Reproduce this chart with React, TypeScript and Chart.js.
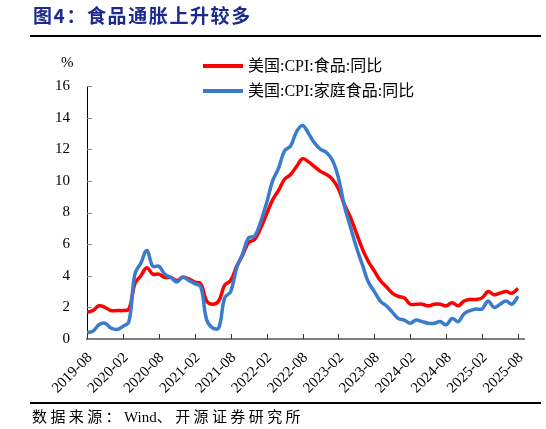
import React, { useEffect, useRef } from "react";
import Chart from "chart.js/auto";

const months = [
  "2019-08", "2019-09", "2019-10", "2019-11", "2019-12",
  "2020-01", "2020-02", "2020-03", "2020-04", "2020-05", "2020-06",
  "2020-07", "2020-08", "2020-09", "2020-10", "2020-11", "2020-12",
  "2021-01", "2021-02", "2021-03", "2021-04", "2021-05", "2021-06",
  "2021-07", "2021-08", "2021-09", "2021-10", "2021-11", "2021-12",
  "2022-01", "2022-02", "2022-03", "2022-04", "2022-05", "2022-06",
  "2022-07", "2022-08", "2022-09", "2022-10", "2022-11", "2022-12",
  "2023-01", "2023-02", "2023-03", "2023-04", "2023-05", "2023-06",
  "2023-07", "2023-08", "2023-09", "2023-10", "2023-11", "2023-12",
  "2024-01", "2024-02", "2024-03", "2024-04", "2024-05", "2024-06",
  "2024-07", "2024-08", "2024-09", "2024-10", "2024-11", "2024-12",
  "2025-01", "2025-02", "2025-03", "2025-04", "2025-05", "2025-06",
  "2025-07", "2025-08",
];

// 美国:CPI:食品:同比 (%)
const foodYoY = [
  1.7, 1.8, 2.1, 2.0, 1.8,
  1.8, 1.8, 1.9, 3.5, 4.0, 4.5, 4.1, 4.1, 3.9, 3.9, 3.7, 3.9,
  3.8, 3.6, 3.5, 2.4, 2.2, 2.4, 3.4, 3.7, 4.6, 5.3, 6.1, 6.3,
  7.0, 7.9, 8.8, 9.4, 10.1, 10.4, 10.9, 11.4, 11.2, 10.9, 10.6, 10.4,
  10.1, 9.5, 8.5, 7.7, 6.7, 5.7, 4.9, 4.3, 3.7, 3.3, 2.9, 2.7,
  2.6, 2.2, 2.2, 2.2, 2.1, 2.2, 2.2, 2.1, 2.3, 2.1, 2.4, 2.5,
  2.5, 2.6, 3.0, 2.8, 2.9, 3.0, 2.9, 3.2,
];

// 美国:CPI:家庭食品:同比 (%)
const foodAtHomeYoY = [
  0.4, 0.5, 0.9, 1.0, 0.7,
  0.6, 0.8, 1.1, 4.1, 4.8, 5.6, 4.6, 4.6, 4.1, 3.9, 3.6, 3.9,
  3.7, 3.5, 3.3, 1.2, 0.7, 0.7, 2.6, 3.0, 4.5, 5.4, 6.4, 6.5,
  7.4, 8.6, 10.0, 10.8, 11.9, 12.2, 13.1, 13.5, 13.0, 12.4, 12.0, 11.8,
  11.3, 10.2, 8.4, 7.1, 5.8, 4.7, 3.6, 3.0, 2.4, 2.1, 1.7, 1.3,
  1.2, 1.0, 1.2, 1.1, 1.0, 1.0, 1.1, 0.9, 1.3, 1.1, 1.6, 1.8,
  1.9, 1.9, 2.4, 2.0, 2.2, 2.4, 2.2, 2.7,
];

const seriesNames = ["美国:CPI:食品:同比", "美国:CPI:家庭食品:同比"];
const seriesColors = ["#FF0000", "#3A7BCB"];

const SERIF = '"Liberation Serif", "Noto Sans CJK SC", serif';

// small inward tick marks, like the excel original
const inwardTicks = {
  id: "inwardTicks",
  afterDraw(chart: any) {
    const { ctx, scales } = chart;
    const x = scales.x;
    const y = scales.y;
    ctx.save();
    ctx.lineWidth = 1;
    ctx.strokeStyle = "#333";
    x.ticks.forEach((_: any, i: number) => {
      const px = Math.round(x.getPixelForTick(i)) + 0.5;
      ctx.beginPath();
      ctx.moveTo(px, x.top);
      ctx.lineTo(px, x.top - 5);
      ctx.stroke();
    });
    ctx.strokeStyle = "#888";
    y.ticks.forEach((_: any, i: number) => {
      const py = Math.round(y.getPixelForTick(i)) + 0.5;
      ctx.beginPath();
      ctx.moveTo(y.right, py);
      ctx.lineTo(y.right + 5, py);
      ctx.stroke();
    });
    ctx.restore();
  },
};

const App: React.FC = () => {
  const chartRef = useRef<HTMLCanvasElement | null>(null);

  useEffect(() => {
    if (!chartRef.current) return;
    const ctx = chartRef.current.getContext("2d");
    if (!ctx) return;

    const chart = new Chart(ctx, {
      type: "line",
      data: {
        datasets: [
          {
            label: seriesNames[0],
            data: foodYoY.map((v, i) => ({ x: i, y: v })),
            borderColor: seriesColors[0],
            borderWidth: 3.5,
            pointRadius: 0,
            tension: 0.4,
            order: 1,
          },
          {
            label: seriesNames[1],
            data: foodAtHomeYoY.map((v, i) => ({ x: i, y: v })),
            borderColor: seriesColors[1],
            borderWidth: 3.5,
            pointRadius: 0,
            tension: 0.4,
            order: 0,
          },
        ],
      },
      options: {
        responsive: true,
        maintainAspectRatio: false,
        animation: false,
        layout: { padding: { top: 86, right: 22, bottom: 0, left: 0 } },
        plugins: {
          legend: { display: false },
          tooltip: { enabled: false },
        },
        scales: {
          x: {
            type: "linear",
            min: 0,
            max: months.length,
            grid: { display: false, drawTicks: false },
            border: { display: true, color: "#808080", width: 2 },
            // one tick every six months, starting at the first month
            afterBuildTicks: (s: any) => {
              s.ticks = months
                .map((_, i) => i)
                .filter((i) => i % 6 === 0)
                .map((i) => ({ value: i }));
            },
            afterFit: (s: any) => {
              s.height = 90;
            },
            ticks: {
              autoSkip: false,
              minRotation: 45,
              maxRotation: 45,
              padding: 10,
              labelOffset: 3,
              color: "#000",
              font: { family: SERIF, size: 15 },
              callback: (v: any) => months[v] ?? "",
            },
          },
          y: {
            min: 0,
            max: 16,
            grid: { display: false, drawTicks: false },
            border: { display: true, color: "#000", width: 1 },
            afterFit: (s: any) => {
              s.width = 87;
            },
            ticks: {
              stepSize: 2,
              padding: 17,
              color: "#000",
              font: { family: SERIF, size: 15 },
            },
          },
        },
      },
      plugins: [inwardTicks],
    });

    return () => {
      chart.destroy();
    };
  }, []);

  return (
    <div
      style={{
        position: "absolute",
        left: 0,
        top: 0,
        width: 546,
        height: 429,
        background: "#fff",
        fontFamily: SERIF,
        color: "#000",
      }}
    >
      <canvas ref={chartRef} style={{ position: "absolute", left: 0, top: 0 }}></canvas>
      <div
        style={{
          position: "absolute",
          left: 33,
          top: 3,
          fontFamily: '"Noto Sans CJK SC", sans-serif',
          fontWeight: 700,
          fontSize: 19,
          lineHeight: "24px",
          letterSpacing: 1.6,
          color: "#1B2A8C",
          whiteSpace: "nowrap",
        }}
      >
        图4：食品通胀上升较多
      </div>
      <div style={{ position: "absolute", left: 30, top: 35, width: 511, height: 2, background: "#000" }} />
      <div style={{ position: "absolute", left: 61, top: 52, fontSize: 15, lineHeight: "20px" }}>%</div>
      {seriesNames.map((name, i) => (
        <div
          key={name}
          style={{
            position: "absolute",
            left: 203,
            top: 56 + i * 25,
            height: 20,
            display: "flex",
            alignItems: "center",
            whiteSpace: "nowrap",
          }}
        >
          <span style={{ display: "inline-block", width: 40, height: 4, background: seriesColors[i], marginRight: 5 }} />
          <span style={{ fontSize: 16, lineHeight: "20px" }}>{name}</span>
        </div>
      ))}
      <div style={{ position: "absolute", left: 30, top: 402, width: 511, height: 1.5, background: "#000" }} />
      <div
        style={{
          position: "absolute",
          left: 32,
          top: 407,
          fontSize: 15,
          lineHeight: "20px",
          letterSpacing: 3.4,
          whiteSpace: "nowrap",
        }}
      >
        数据来源：<span style={{ letterSpacing: 0 }}>Wind</span>、开源证券研究所
      </div>
    </div>
  );
};

export default App;
